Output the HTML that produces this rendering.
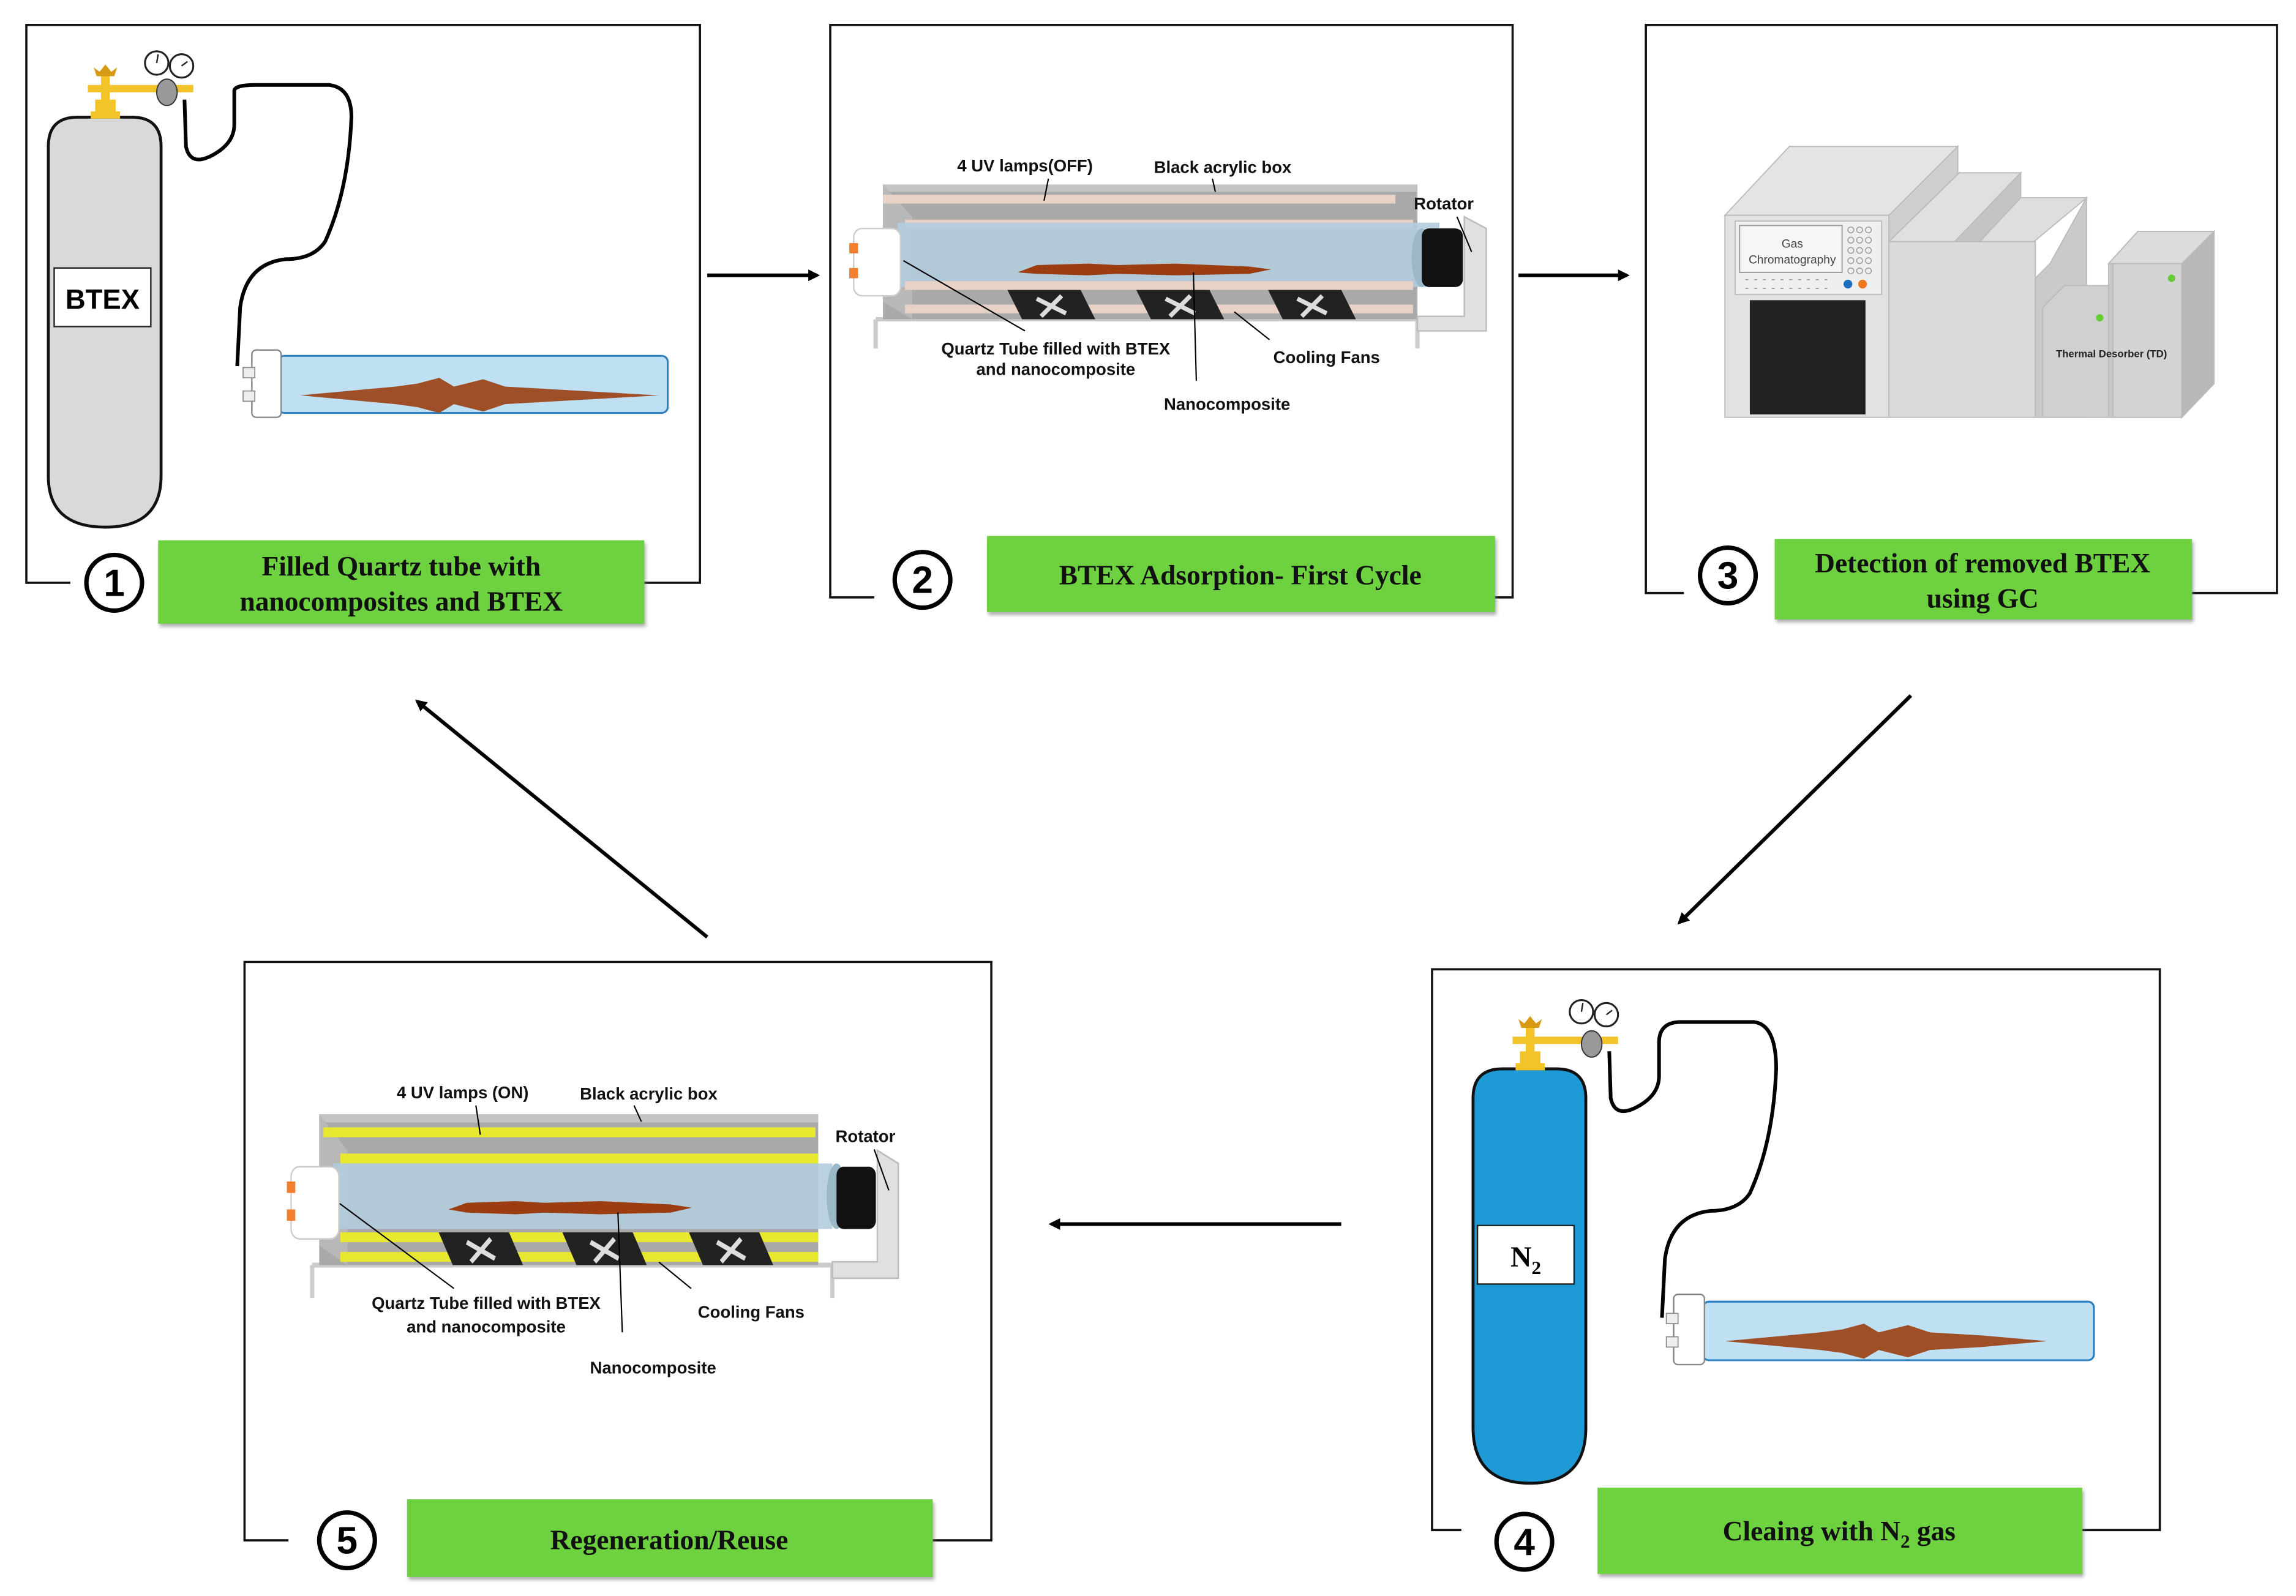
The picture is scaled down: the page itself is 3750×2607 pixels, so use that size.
<!DOCTYPE html>
<html><head><meta charset="utf-8"><style>
html,body{margin:0;padding:0;background:#fff;}
svg{display:block;}
text{font-family:"Liberation Sans",sans-serif;}
.lb text{font-size:11.5px;font-weight:bold;fill:#111;}
.gt text{font-family:"Liberation Serif",serif;font-weight:bold;font-size:19px;fill:#111;}
text.serif{font-family:"Liberation Serif",serif;}
</style></head><body>
<svg width="3750" height="2607" viewBox="0 0 1568 1090" xmlns="http://www.w3.org/2000/svg">
<defs>
<marker id="ah" markerWidth="8" markerHeight="8" refX="6" refY="4" orient="auto" markerUnits="userSpaceOnUse"><path d="M0,0 L8,4 L0,8 z" fill="#000"/></marker>
<filter id="sh" x="-5%" y="-10%" width="115%" height="130%"><feDropShadow dx="1" dy="2" stdDeviation="1.2" flood-color="#777" flood-opacity="0.6"/></filter>
</defs>

<!-- Frames -->
<g fill="none" stroke="#111" stroke-width="1.5">
<polyline points="48,398 18,398 18,17 478,17 478,398 440,398"/>
<polyline points="597,408 567,408 567,17 1033,17 1033,408 1021,408"/>
<polyline points="1150,405 1124,405 1124,17 1555,17 1555,405 1497,405"/>
<polyline points="998,1045 978,1045 978,662 1475,662 1475,1045 1422,1045"/>
<polyline points="197,1052 167,1052 167,657 677,657 677,1052 637,1052"/>
</g>

<!-- Arrows -->
<g stroke="#000" stroke-width="2.5" marker-end="url(#ah)">
<line x1="483" y1="188" x2="558" y2="188"/>
<line x1="1037" y1="188" x2="1111" y2="188"/>
<line x1="1305" y1="475" x2="1147" y2="630"/>
<line x1="916" y1="836" x2="718" y2="836"/>
<line x1="483" y1="640" x2="285" y2="479"/>
</g>

<!-- Number circles -->
<g fill="#fff" stroke="#000" stroke-width="3">
<circle cx="78" cy="398" r="19"/><circle cx="630" cy="396" r="19"/><circle cx="1180" cy="393" r="19"/>
<circle cx="1041" cy="1053" r="19"/><circle cx="237" cy="1052" r="19"/>
</g>
<g font-weight="bold" font-size="26" text-anchor="middle" fill="#000">
<text x="78" y="407">1</text><text x="630" y="405">2</text><text x="1180" y="402">3</text>
<text x="1041" y="1062">4</text><text x="237" y="1061">5</text>
</g>

<!-- Green labels -->
<g fill="#6dd13f" filter="url(#sh)">
<rect x="108" y="369" width="332" height="57"/>
<rect x="674" y="366" width="347" height="52"/>
<rect x="1212" y="368" width="285" height="55"/>
<rect x="1091" y="1016" width="331" height="59"/>
<rect x="278" y="1024" width="359" height="53"/>
</g>
<g class="gt" text-anchor="middle">
<text x="274" y="393">Filled Quartz tube with</text>
<text x="274" y="417">nanocomposites and BTEX</text>
<text x="847" y="399">BTEX Adsorption- First Cycle</text>
<text x="1354" y="391">Detection of removed BTEX</text>
<text x="1354" y="415">using GC</text>
<text x="1256" y="1052">Cleaing with N<tspan font-size="13" dy="5">2</tspan><tspan dy="-5"> gas</tspan></text>
<text x="457" y="1058">Regeneration/Reuse</text>
</g>

<!-- Panel 1 cylinder set -->
<g>
<path d="M33,100 Q33,80 53,80 L90,80 Q110,80 110,100 L110,325 Q110,360 72,360 Q33,360 33,325 Z" fill="#d9d9d9" stroke="#111" stroke-width="2"/>
<rect x="37" y="183" width="66" height="40" fill="#fff" stroke="#222" stroke-width="1"/>
<text x="70" y="211" font-size="19" font-weight="bold" text-anchor="middle">BTEX</text>
<rect x="65" y="68" width="14" height="12" fill="#f2c42a"/>
<rect x="62" y="76" width="20" height="5" fill="#f2c42a"/>
<rect x="69" y="52" width="6" height="20" fill="#f2c42a"/>
<rect x="60" y="58" width="72" height="5" fill="#f2c42a"/>
<path d="M64,46 L68,49 L72,44 L76,49 L80,46 L78,52 L66,52 Z" fill="#d79a12"/>
<ellipse cx="114" cy="63" rx="7" ry="9" fill="#999" stroke="#333" stroke-width="0.8"/>
<circle cx="107" cy="43" r="8" fill="#fff" stroke="#222" stroke-width="1.3"/>
<circle cx="124" cy="45" r="8" fill="#fff" stroke="#222" stroke-width="1.3"/>
<path d="M107,43 L108,37 M124,45 L128,42" stroke="#222" stroke-width="1"/>
<path d="M126,68 L127,100 Q130,114 145,106 Q160,98 160,85 L160,62 Q160,58 175,58 L225,58 Q240,60 240,80 Q238,130 222,165 Q214,177 195,177 Q168,180 164,210 L162,250" fill="none" stroke="#000" stroke-width="2.5"/>
<rect x="190" y="243" width="266" height="39" rx="4" fill="#bfdff2" stroke="#2a7fc0" stroke-width="1.3"/>
<path d="M205,270 L270,264 L285,262 L300,258 L310,264 L330,259 L345,264 L380,266 L450,270 L380,274 L345,276 L330,281 L310,276 L300,282 L285,278 L270,276 Z" fill="#9e4f27"/>
<rect x="172" y="239" width="20" height="46" rx="3" fill="#fff" stroke="#888" stroke-width="1"/>
<rect x="166" y="251" width="8" height="7" fill="#eee" stroke="#888" stroke-width="0.7"/>
<rect x="166" y="267" width="8" height="7" fill="#eee" stroke="#888" stroke-width="0.7"/>
</g>

<!-- Panel 4 N2 set -->
<g transform="translate(973,650)">
<path d="M33,100 Q33,80 53,80 L90,80 Q110,80 110,100 L110,325 Q110,363 72,363 Q33,363 33,325 Z" fill="#1e9bd7" stroke="#111" stroke-width="2"/>
<rect x="36" y="187" width="66" height="40" fill="#fff" stroke="#222" stroke-width="1"/>
<text class="serif" x="69" y="215" font-size="20" font-weight="bold" text-anchor="middle">N<tspan font-size="13" dy="5">2</tspan></text>
<rect x="65" y="68" width="14" height="12" fill="#f2c42a"/>
<rect x="62" y="76" width="20" height="5" fill="#f2c42a"/>
<rect x="69" y="52" width="6" height="20" fill="#f2c42a"/>
<rect x="60" y="58" width="72" height="5" fill="#f2c42a"/>
<path d="M64,46 L68,49 L72,44 L76,49 L80,46 L78,52 L66,52 Z" fill="#d79a12"/>
<ellipse cx="114" cy="63" rx="7" ry="9" fill="#999" stroke="#333" stroke-width="0.8"/>
<circle cx="107" cy="41" r="8" fill="#fff" stroke="#222" stroke-width="1.3"/>
<circle cx="124" cy="43" r="8" fill="#fff" stroke="#222" stroke-width="1.3"/>
<path d="M107,41 L108,35 M124,43 L128,40" stroke="#222" stroke-width="1"/>
<path d="M126,68 L127,100 Q130,114 145,106 Q160,98 160,85 L160,62 Q160,48 175,48 L225,48 Q240,50 240,80 Q238,130 222,165 Q214,177 195,177 Q168,180 164,210 L162,250" fill="none" stroke="#000" stroke-width="2.5"/>
<rect x="190" y="239" width="267" height="40" rx="4" fill="#bfdff2" stroke="#2a7fc0" stroke-width="1.3"/>
<path d="M205,266 L270,260 L285,258 L300,254 L310,260 L330,255 L345,260 L380,262 L425,266 L380,270 L345,272 L330,277 L310,272 L300,278 L285,274 L270,272 Z" fill="#9e4f27"/>
<rect x="170" y="234" width="21" height="48" rx="3" fill="#fff" stroke="#888" stroke-width="1"/>
<rect x="165" y="247" width="8" height="7" fill="#eee" stroke="#888" stroke-width="0.7"/>
<rect x="165" y="263" width="8" height="7" fill="#eee" stroke="#888" stroke-width="0.7"/>
</g>

<!-- Panel 2 apparatus -->
<g transform="translate(603,126)">
<path d="M-5,92 L-5,112 M365,92 L365,112 M-5,92 L365,92" stroke="#ccc" stroke-width="3" fill="none"/>
<rect x="0" y="0" width="365" height="92" fill="#a9a9a9"/>
<rect x="0" y="0" width="365" height="5" fill="#c4c4c4"/>
<polygon points="0,0 20,22 20,92 0,80" fill="#b8b8b8"/>
<rect x="0" y="7" width="350" height="6" fill="#e8d2c6"/>
<rect x="15" y="24" width="347" height="6" fill="#e8d2c6"/>
<rect x="10" y="26" width="370" height="44" fill="#b2ccdd" opacity="0.9"/>
<rect x="15" y="66" width="347" height="6" fill="#e8d2c6"/>
<rect x="15" y="82" width="347" height="6" fill="#e8d2c6"/>
<path d="M92,60 L105,55 L140,54 L160,55 L200,54 L250,56 L265,58 L250,61 L200,62 L160,61 L140,62 L105,61 Z" fill="#9b3d10"/>
<polygon points="85,72 135,72 145,92 95,92" fill="#222"/>
<polygon points="173,72 223,72 233,92 183,92" fill="#222"/>
<polygon points="263,72 313,72 323,92 273,92" fill="#222"/>
<g stroke="#ddd" stroke-width="3"><path d="M105,78 L125,88 M122,76 L108,90"/><path d="M193,78 L213,88 M210,76 L196,90"/><path d="M283,78 L303,88 M300,76 L286,90"/></g>
<ellipse cx="368" cy="50" rx="7" ry="20" fill="#9ab8c8"/>
<rect x="368" y="30" width="28" height="40" rx="5" fill="#111"/>
<path d="M397,22 L412,30 L412,100 L365,100 L365,90 L397,90 Z" fill="#e0e0e0" stroke="#bbb" stroke-width="1"/>
<rect x="-20" y="30" width="32" height="46" rx="6" fill="#fff" stroke="#ccc" stroke-width="1"/>
<rect x="-23" y="40" width="6" height="7" fill="#f08030"/>
<rect x="-23" y="57" width="6" height="7" fill="#f08030"/>
</g>
<g stroke="#000" stroke-width="0.9">
<line x1="716" y1="122" x2="713" y2="137"/><line x1="828" y1="122" x2="830" y2="131"/>
<line x1="995" y1="148" x2="1005" y2="172"/><line x1="617" y1="178" x2="700" y2="226"/>
<line x1="843" y1="213" x2="867" y2="232"/><line x1="815" y1="186" x2="817" y2="260"/>
</g>
<g class="lb" text-anchor="middle">
<text x="700" y="117">4 UV lamps(OFF)</text><text x="835" y="118">Black acrylic box</text>
<text x="986" y="143">Rotator</text>
<text x="721" y="242">Quartz Tube filled with BTEX</text><text x="721" y="256">and nanocomposite</text>
<text x="906" y="248">Cooling Fans</text><text x="838" y="280">Nanocomposite</text>
</g>

<!-- Panel 5 apparatus -->
<g transform="translate(218,761) scale(0.96,1.12)">
<path d="M-5,92 L-5,112 M365,92 L365,112 M-5,92 L365,92" stroke="#ccc" stroke-width="3" fill="none"/>
<rect x="0" y="0" width="355" height="92" fill="#a9a9a9"/>
<rect x="0" y="0" width="355" height="5" fill="#c4c4c4"/>
<polygon points="0,0 20,22 20,92 0,80" fill="#b8b8b8"/>
<rect x="3" y="8" width="350" height="6" fill="#e8e830"/>
<rect x="15" y="24" width="340" height="6" fill="#e8e830"/>
<rect x="10" y="30" width="355" height="40" fill="#b2ccdd" opacity="0.9"/>
<rect x="15" y="72" width="340" height="6" fill="#e8e830"/>
<rect x="15" y="84" width="340" height="6" fill="#e8e830"/>
<path d="M92,58 L105,54 L140,53 L160,54 L200,53 L250,55 L265,57 L250,60 L200,61 L160,60 L140,61 L105,60 Z" fill="#9b3d10"/>
<polygon points="85,72 135,72 145,92 95,92" fill="#222"/>
<polygon points="173,72 223,72 233,92 183,92" fill="#222"/>
<polygon points="263,72 313,72 323,92 273,92" fill="#222"/>
<g stroke="#ddd" stroke-width="3"><path d="M105,78 L125,88 M122,76 L108,90"/><path d="M193,78 L213,88 M210,76 L196,90"/><path d="M283,78 L303,88 M300,76 L286,90"/></g>
<ellipse cx="368" cy="50" rx="7" ry="20" fill="#9ab8c8"/>
<rect x="368" y="32" width="28" height="38" rx="5" fill="#111"/>
<path d="M397,22 L412,30 L412,100 L365,100 L365,90 L397,90 Z" fill="#e0e0e0" stroke="#bbb" stroke-width="1"/>
<rect x="-20" y="32" width="34" height="44" rx="6" fill="#fff" stroke="#ccc" stroke-width="1"/>
<rect x="-23" y="41" width="6" height="7" fill="#f08030"/>
<rect x="-23" y="58" width="6" height="7" fill="#f08030"/>
</g>
<g stroke="#000" stroke-width="0.9">
<line x1="325" y1="755" x2="328" y2="775"/><line x1="433" y1="755" x2="438" y2="766"/>
<line x1="597" y1="785" x2="607" y2="813"/><line x1="232" y1="822" x2="310" y2="880"/>
<line x1="450" y1="862" x2="472" y2="880"/><line x1="422" y1="828" x2="425" y2="910"/>
</g>
<g class="lb" text-anchor="middle">
<text x="316" y="750">4 UV lamps (ON)</text><text x="443" y="751">Black acrylic box</text>
<text x="591" y="780">Rotator</text>
<text x="332" y="894">Quartz Tube filled with BTEX</text><text x="332" y="910">and nanocomposite</text>
<text x="513" y="900">Cooling Fans</text><text x="446" y="938">Nanocomposite</text>
</g>

<!-- Panel 3 GC -->
<g stroke="#bbb" stroke-width="0.8">
<polygon points="1290,147 1337,100 1337,148 1290,195" fill="#cfcfcf"/>
<polygon points="1178,147 1222,100 1337,100 1290,147" fill="#e4e4e4"/>
<polygon points="1290,165 1338,118 1338,170" fill="#bdbdbd"/>
<polygon points="1290,165 1338,118 1380,118 1335,165" fill="#e0e0e0"/>
<polygon points="1335,165 1380,118 1380,175 1335,210" fill="#c4c4c4"/>
<polygon points="1335,210 1380,175 1380,200 1400,180 1425,135 1425,285 1390,285" fill="#cacaca"/>
<polygon points="1338,215 1383,170 1425,135 1380,135 1338,180" fill="#dedede"/>
<rect x="1290" y="165" width="100" height="120" fill="#dadada"/>
<rect x="1178" y="147" width="112" height="138" fill="#e2e2e2"/>
<rect x="1185" y="151" width="100" height="50" fill="#efefef"/>
<rect x="1188" y="154" width="70" height="32" fill="#f6f6f6" stroke="#999"/>
<rect x="1195" y="205" width="79" height="78" fill="#222" stroke="none"/>
<polygon points="1395,285 1395,210 1410,195 1440,195 1440,285" fill="#d0d0d0"/>
<polygon points="1440,285 1440,180 1460,158 1512,158 1512,262 1490,285" fill="#c8c8c8"/>
<polygon points="1440,180 1460,158 1512,158 1492,180" fill="#dcdcdc"/>
<rect x="1443" y="180" width="47" height="105" fill="#d4d4d4"/>
<polygon points="1490,180 1512,158 1512,262 1490,285" fill="#b8b8b8"/>
</g>
<g fill="none" stroke="#999" stroke-width="0.6">
<circle cx="1264" cy="157" r="2"/><circle cx="1270" cy="157" r="2"/><circle cx="1276" cy="157" r="2"/>
<circle cx="1264" cy="164" r="2"/><circle cx="1270" cy="164" r="2"/><circle cx="1276" cy="164" r="2"/>
<circle cx="1264" cy="171" r="2"/><circle cx="1270" cy="171" r="2"/><circle cx="1276" cy="171" r="2"/>
<circle cx="1264" cy="178" r="2"/><circle cx="1270" cy="178" r="2"/><circle cx="1276" cy="178" r="2"/>
<circle cx="1264" cy="185" r="2"/><circle cx="1270" cy="185" r="2"/><circle cx="1276" cy="185" r="2"/>
<path d="M1192,191 h60 M1192,197 h60" stroke-dasharray="2,4"/>
</g>
<circle cx="1262" cy="194" r="3" fill="#1a6fc0"/><circle cx="1272" cy="194" r="3" fill="#f07820"/>
<circle cx="1434" cy="217" r="2.5" fill="#6c3"/><circle cx="1483" cy="190" r="2.5" fill="#6c3"/>
<text x="1224" y="169" font-size="8" text-anchor="middle" fill="#444">Gas</text>
<text x="1224" y="180" font-size="8" text-anchor="middle" fill="#444">Chromatography</text>
<text x="1442" y="244" font-size="7" font-weight="bold" text-anchor="middle" fill="#222">Thermal Desorber (TD)</text>
</svg>
</body></html>
